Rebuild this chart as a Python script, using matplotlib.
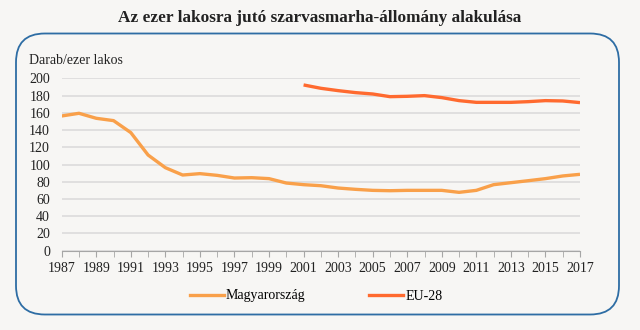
import matplotlib
matplotlib.use("Agg")
import matplotlib.pyplot as plt
from matplotlib.patches import FancyBboxPatch
from matplotlib.lines import Line2D

years_hu = list(range(1987, 2018))
hungary = [156.3, 159.4, 153.6, 150.9, 137.0, 111.0, 96.3, 87.8, 89.4, 87.4,
           84.3, 84.7, 83.6, 78.5, 76.6, 75.4, 72.7, 71.2, 70.0, 69.6,
           70.0, 70.0, 70.0, 67.7, 70.0, 76.6, 78.9, 81.2, 83.6, 86.7, 88.6]
years_eu = list(range(2001, 2018))
eu28 = [192.3, 188.4, 185.7, 183.4, 181.8, 178.7, 179.1, 179.9, 177.6, 174.1,
        172.1, 172.1, 172.1, 172.9, 174.1, 173.7, 171.8]
yticks = list(range(0, 201, 20))
xtick_labels = list(range(1987, 2018, 2))

plt.rcParams['font.family'] = ['Liberation Serif', 'DejaVu Serif']
bg = '#F7F6F4'
fig = plt.figure(figsize=(6.4, 3.3), dpi=100, facecolor=bg)

box = FancyBboxPatch((16/640, 1-314.5/330), (619-16)/640, (314.5-33.5)/330,
                     boxstyle="round,pad=0,rounding_size=0.045",
                     transform=fig.transFigure, facecolor='none',
                     edgecolor='#2E6DA4', linewidth=1.3, mutation_aspect=640/330,
                     zorder=-5)
fig.patches.append(box)

fig.text(0.5, 1-18.5/330, 'Az ezer lakosra jutó szarvasmarha-állomány alakulása',
         ha='center', va='center', fontsize=12.4, fontweight='bold', color='#222222')

ax = fig.add_axes([61.7/640, 1-250.7/330, (580-61.7)/640, (250.7-78.3)/330])
ax.set_facecolor('none')
ax.plot(years_hu, hungary, color='#F9A04A', lw=2.4, solid_capstyle='butt')
ax.plot(years_eu, eu28, color='#FF6A2F', lw=2.4, solid_capstyle='butt')
ax.set_xlim(1987, 2017)
ax.set_ylim(0, 200)
ax.set_yticks(yticks)
ax.set_xticks(xtick_labels)
ax.set_xticks(range(1987, 2018), minor=True)
ax.grid(axis='y', color='#D9D9D9', lw=1.1)
ax.set_axisbelow(True)
for s in ['top', 'right', 'left']:
    ax.spines[s].set_visible(False)
ax.spines['bottom'].set_color('#A6A6A6')
ax.tick_params(axis='y', length=0, labelsize=10, colors='#222222', pad=8.4)
ax.tick_params(axis='x', which='both', length=4, color='#A6A6A6', labelsize=10,
               labelcolor='#222222', pad=4)
ax.tick_params(axis='x', which='minor', length=4)
fig.text(29/640, 1-60/330, 'Darab/ezer lakos', ha='left', va='center',
         fontsize=10, color='#222222')

handles = [Line2D([], [], color='#F9A04A', lw=2.4), Line2D([], [], color='#FF6A2F', lw=2.4)]
fig.legend(handles, ['Magyarország', 'EU-28'], loc='center', ncol=2,
           bbox_to_anchor=(316/640, 1-296/330), frameon=False, fontsize=10,
           handlelength=2.45, handletextpad=0.15, columnspacing=4.6)
fig.savefig('out.png', dpi=100, facecolor=bg)
